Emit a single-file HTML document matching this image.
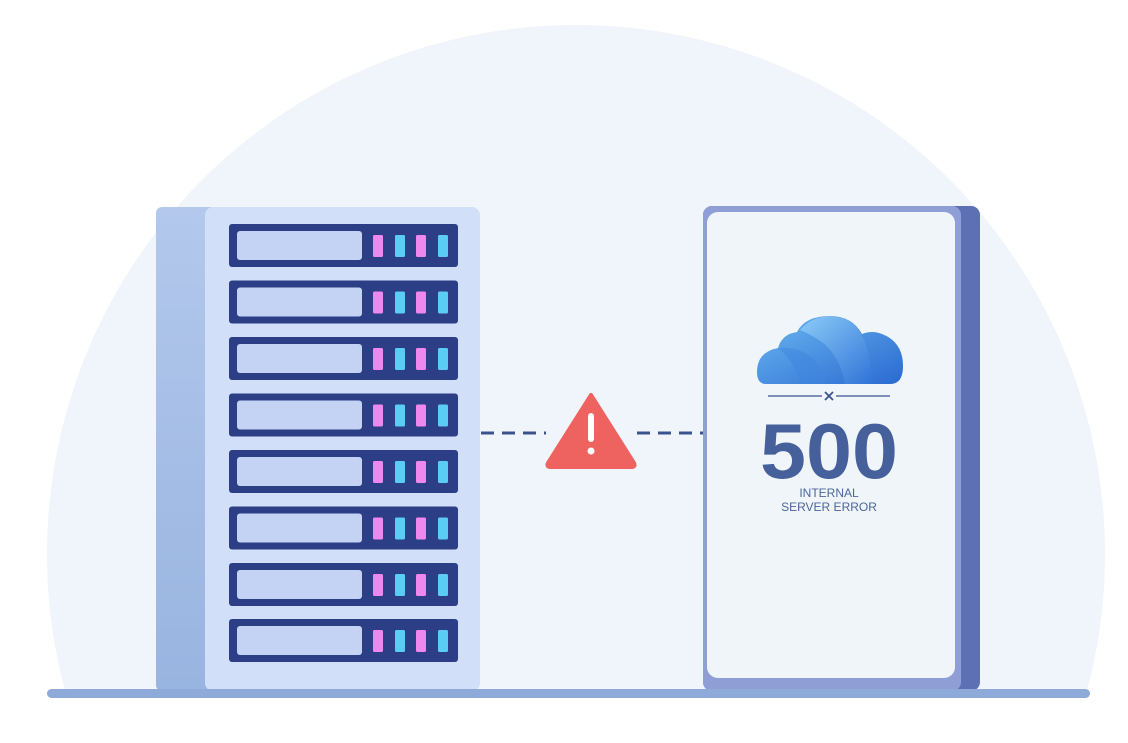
<!DOCTYPE html>
<html><head><meta charset="utf-8"><style>
html,body{margin:0;padding:0;background:#fff;width:1128px;height:743px;overflow:hidden;}
svg{display:block;}
</style></head><body>
<svg width="1128" height="743" viewBox="0 0 1128 743" xmlns="http://www.w3.org/2000/svg">
<defs>
<clipPath id="c"><rect x="0" y="0" width="1128" height="692"/></clipPath>
<linearGradient id="side" x1="0" y1="0" x2="0" y2="1"><stop offset="0" stop-color="#b3c8ec"/><stop offset="1" stop-color="#98b4e0"/></linearGradient>
<linearGradient id="cl" x1="0" y1="0" x2="1" y2="1"><stop offset="0" stop-color="#9ad6fb"/><stop offset="1" stop-color="#2f74d8"/></linearGradient>
<linearGradient id="cl2" x1="0" y1="0" x2="1" y2="1"><stop offset="0" stop-color="#6cb8f2"/><stop offset="1" stop-color="#2a6ad0"/></linearGradient>
</defs>
<circle cx="576" cy="554" r="529" fill="#f0f5fb" clip-path="url(#c)"/>
<!-- server -->
<rect x="156" y="207" width="60" height="484" rx="6" fill="url(#side)"/>
<rect x="205" y="207" width="275" height="484" rx="8" fill="#d1dff8"/>
<g id="rows">
<g transform="translate(0,224)"><rect x="229" y="0" width="229" height="43" rx="3" fill="#2c3f86"/><rect x="237" y="7" width="125" height="29" rx="3" fill="#c4d3f4"/><rect x="373" y="11" width="10" height="22" rx="1.5" fill="#ee88ef"/><rect x="395" y="11" width="10" height="22" rx="1.5" fill="#5ccdf2"/><rect x="416" y="11" width="10" height="22" rx="1.5" fill="#ee88ef"/><rect x="438" y="11" width="10" height="22" rx="1.5" fill="#5ccdf2"/></g>
</g>
<use href="#rows" y="56.5"/><use href="#rows" y="113"/><use href="#rows" y="169.5"/><use href="#rows" y="226"/><use href="#rows" y="282.5"/><use href="#rows" y="339"/><use href="#rows" y="395"/>
<!-- dashes -->
<line x1="481" y1="433" x2="546" y2="433" stroke="#3b5290" stroke-width="3" stroke-dasharray="13,8"/>
<line x1="637" y1="433" x2="703" y2="433" stroke="#3b5290" stroke-width="3" stroke-dasharray="13,8"/>
<path d="M591 395 L634 463 Q636 467 631 467 L551 467 Q546 467 548 463 Z" fill="#ee625f" stroke="#ee625f" stroke-width="4" stroke-linejoin="round"/>
<rect x="588" y="413" width="6" height="29" rx="3" fill="#fff"/>
<circle cx="591" cy="451" r="3.5" fill="#fff"/>
<!-- phone -->
<rect x="703" y="206" width="277" height="485" rx="9" fill="#5d70b4"/>
<rect x="703" y="206" width="258" height="485" rx="9" fill="#8f9fd6"/>
<rect x="707" y="212" width="248" height="466" rx="11" fill="#f0f5fa"/>
<!-- cloud -->
<path d="M766 384 Q757 384 757 372 Q757 352 778 348 Q782 334 797 332 Q805 316 830 316 Q852 316 862 334 Q872 330 882 334 Q903 342 903 366 Q903 384 890 384 Z" fill="url(#cl2)"/>
<path d="M800 330 Q812 316 832 316 Q855 318 864 340 Q872 360 872 384 L845 384 Q840 356 822 342 Q810 334 800 330 Z" fill="url(#cl)" opacity="0.75"/>
<path d="M778 348 Q800 346 815 360 Q825 372 826 384 L800 384 Q795 362 778 348 Z" fill="#3d86e0" opacity="0.5"/>
<line x1="768" y1="396" x2="822" y2="396" stroke="#3b5290" stroke-width="1.3"/>
<line x1="836" y1="396" x2="890" y2="396" stroke="#3b5290" stroke-width="1.3"/>
<path d="M825 392 L833 400 M833 392 L825 400" stroke="#3b5290" stroke-width="1.8"/>
<text x="760" y="478" textLength="138" lengthAdjust="spacingAndGlyphs" font-family="Liberation Sans, sans-serif" font-weight="bold" font-size="78" fill="#45609b">500</text>
<text x="829" y="497" text-anchor="middle" font-family="Liberation Sans, sans-serif" font-size="12" fill="#4c669b">INTERNAL</text>
<text x="829" y="511" text-anchor="middle" font-family="Liberation Sans, sans-serif" font-size="12" fill="#4c669b">SERVER ERROR</text>
<!-- ground -->
<rect x="47" y="689" width="1043" height="9" rx="4.5" fill="#8eaad9"/>
</svg>
</body></html>
